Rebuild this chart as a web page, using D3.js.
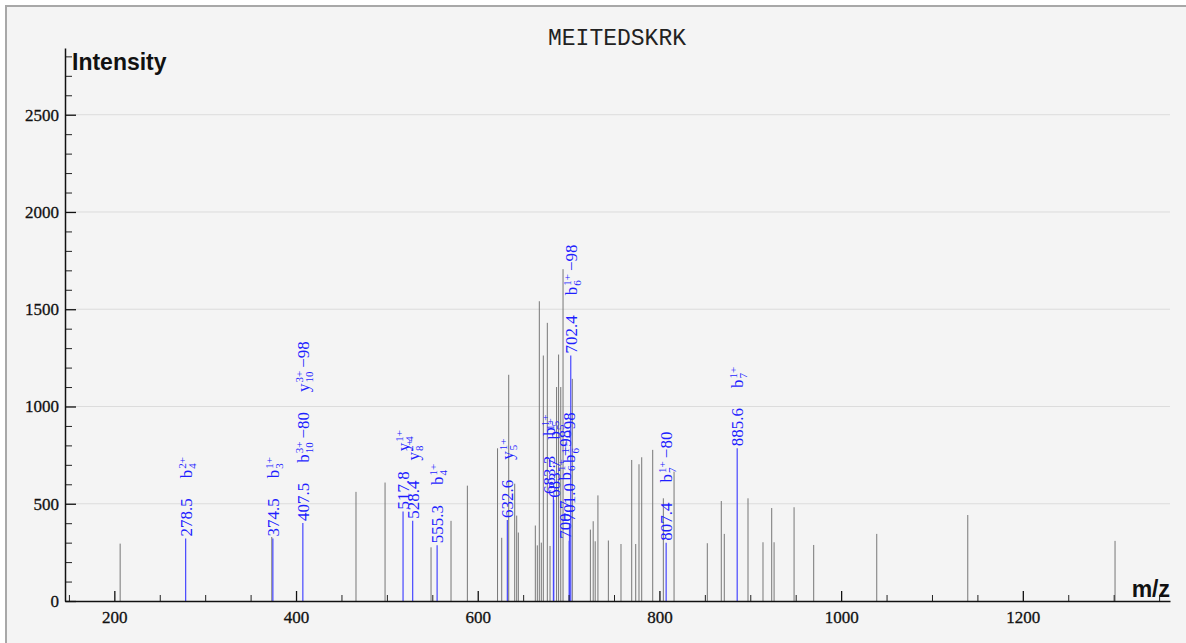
<!DOCTYPE html>
<html>
<head>
<meta charset="utf-8">
<script src="https://cdn.jsdelivr.net/npm/d3@7"></script>
<style>
  body { margin: 0; background: #fff; }
  .ann text { font-family: "Liberation Serif", serif; font-size: 17px; fill: #1f1fff; }
</style>
</head>
<body>
<div id="chart"></div>
<script>
// peptide / title
var peptide = "MEITEDSKRK";

// unannotated peaks (m/z, intensity)
var peakMz = [206.4, 373.3, 466.0, 498.0, 548.6, 570.6, 588.6, 621.8, 626.4, 634.1,
    640.7, 642.9, 644.7, 663.4, 665.6, 667.8, 670.0, 672.2, 676.6, 679.6,
    686.8, 689.0, 691.4, 693.9, 704.1, 724.0, 727.1, 729.3, 732.3, 743.8,
    757.7, 769.5, 773.9, 777.5, 780.5, 792.6, 804.3, 816.1, 852.7, 868.1,
    871.4, 897.5, 914.0, 923.6, 926.2, 948.2, 969.8, 1039.2, 1139.4, 1301.5];
var peakInt = [295, 329, 561, 609, 276, 412, 593, 785, 325, 1163,
    603, 439, 352, 388, 286, 1541, 300, 1262, 1430, 283,
    1100, 1267, 1100, 1706, 1142, 367, 410, 307, 543, 311,
    293, 725, 293, 703, 739, 777, 528, 665, 297, 514,
    345, 528, 302, 478, 302, 482, 288, 345, 442, 309];

// annotated peaks
var annMz = [278.5, 374.5, 407.5, 517.8, 528.4, 555.3, 632.6, 683.3, 683.7, 700.7, 701.0, 702.4, 807.4, 885.6];
var annInt = [321, 321, 401, 460, 412, 286, 417, 540, 520, 310, 400, 1262, 300, 785];
var annIons = [["b_4^2+"], ["b_3^1+"], ["b_10^3+\u221280", "y_10^3+\u221298"], ["y_4^1+"], ["y_8^2+"],
    ["b_4^1+"], ["y_5^1+"], ["b_5^1+"], ["b_5^1+"], ["b_6^1+\u221298"], ["b_6^1+\u221298"],
    ["b_6^1+\u221298"], ["b_7^1+\u221280"], ["b_7^1+"]];

// axis ticks
var xMajor = [200, 400, 600, 800, 1000, 1200];
var yMajor = [0, 500, 1000, 1500, 2000, 2500];

var width = 1186, height = 643;

var svg = d3.select("#chart").append("svg")
    .attr("width", width)
    .attr("height", height);

// frame
svg.append("rect")
    .attr("x", 6).attr("y", 6)
    .attr("width", 1200).attr("height", 660)
    .attr("fill", "#f4f4f4")
    .attr("stroke", "#a8a8a8")
    .attr("stroke-width", 2);

var x = d3.scaleLinear().domain([145.7, 1362]).range([65, 1170]);
var y = d3.scaleLinear().domain([0, 2843]).range([601, 48]);

// gridlines
svg.append("g").selectAll("line")
    .data(yMajor.slice(1))
    .enter().append("line")
    .attr("x1", 65).attr("x2", 1170)
    .attr("y1", function (d) { return y(d); })
    .attr("y2", function (d) { return y(d); })
    .attr("stroke", "#dcdcdc");

// peaks
svg.append("g").selectAll("line")
    .data(peakMz)
    .enter().append("line")
    .attr("x1", function (d) { return x(d); })
    .attr("x2", function (d) { return x(d); })
    .attr("y1", y(0))
    .attr("y2", function (d, i) { return y(peakInt[i]); })
    .attr("stroke", "#777")
    .attr("stroke-width", 1);

svg.append("g").selectAll("line")
    .data(annMz)
    .enter().append("line")
    .attr("x1", function (d) { return x(d); })
    .attr("x2", function (d) { return x(d); })
    .attr("y1", y(0))
    .attr("y2", function (d, i) { return y(annInt[i]); })
    .attr("stroke", "#4646ff")
    .attr("stroke-width", 1.2);

function styleAxis(g) {
    g.select(".domain").attr("stroke", "#111").attr("stroke-width", 1.5);
    g.selectAll(".tick line").attr("stroke", "#111").attr("stroke-width", 1.3);
    g.selectAll(".tick text")
        .attr("fill", "#111")
        .style("font-family", "'Liberation Serif', serif")
        .style("font-size", "17px")
        .style("stroke", "#111")
        .style("stroke-width", "0.3px");
}

// x axis: minor then major
var xMinor = d3.range(150, 1360, 50).filter(function (v) { return xMajor.indexOf(v) < 0; });
svg.append("g")
    .attr("transform", "translate(0," + y(0) + ")")
    .call(d3.axisBottom(x).tickValues(xMinor).tickSize(-6).tickSizeOuter(0).tickFormat(""))
    .call(function (g) { g.select(".domain").remove(); })
    .selectAll("line").attr("stroke", "#222");

svg.append("g")
    .attr("transform", "translate(0," + y(0) + ")")
    .call(d3.axisBottom(x).tickValues(xMajor).tickSize(-10).tickSizeOuter(0).tickPadding(10).tickFormat(d3.format("d")))
    .call(styleAxis);

// y axis: minor then major
var yMinor = d3.range(100, 2900, 100).filter(function (v) { return yMajor.indexOf(v) < 0; });
svg.append("g")
    .attr("transform", "translate(65,0)")
    .call(d3.axisLeft(y).tickValues(yMinor).tickSize(-7).tickSizeOuter(0).tickFormat(""))
    .call(function (g) { g.select(".domain").remove(); })
    .selectAll("line").attr("stroke", "#222");

svg.append("g")
    .attr("transform", "translate(65,0)")
    .call(d3.axisLeft(y).tickValues(yMajor).tickSize(-11).tickSizeOuter(0).tickPadding(6).tickFormat(d3.format("d")))
    .call(styleAxis);

// titles
svg.append("text")
    .attr("x", 617).attr("y", 45)
    .attr("text-anchor", "middle")
    .style("font-family", "'Liberation Mono', monospace")
    .style("font-size", "23px")
    .attr("fill", "#222")
    .text(peptide);

svg.append("text")
    .attr("x", 72).attr("y", 70)
    .style("font-family", "'Liberation Sans', Arial, sans-serif")
    .style("font-weight", "bold")
    .style("font-size", "23px")
    .attr("fill", "#111")
    .text("Intensity");

svg.append("text")
    .attr("x", 1170).attr("y", 597)
    .attr("text-anchor", "end")
    .style("font-family", "'Liberation Sans', Arial, sans-serif")
    .style("font-weight", "bold")
    .style("font-size", "23px")
    .attr("fill", "#111")
    .text("m/z");

// ion label like b_10^3+-80, drawn in rotated local coords, returns end position
function drawIon(g, s, pos) {
    var m = s.match(/^([a-z])_(\d+)\^(\d\+)(.*)$/);
    var a = g.append("text").attr("x", pos).attr("y", 6).text(m[1]);
    var w = a.node().getComputedTextLength();
    var sub = g.append("text").attr("x", pos + w + 1).attr("y", 10).style("font-size", "11px").text(m[2]);
    var sup = g.append("text").attr("x", pos + w + 1).attr("y", 0).style("font-size", "11px").text(m[3]);
    var end = pos + w + 1 + Math.max(sub.node().getComputedTextLength(), sup.node().getComputedTextLength());
    if (m[4]) {
        var suf = g.append("text").attr("x", end + 3).attr("y", 6).text(m[4]);
        end = end + 3 + suf.node().getComputedTextLength();
    }
    return end;
}

var labels = annMz.map(function (mz, i) {
    var g = svg.append("g").attr("class", "ann");
    var t = g.append("text").attr("x", 0).attr("y", 6).text(mz.toFixed(1));
    var pos = t.node().getComputedTextLength();
    annIons[i].forEach(function (s) {
        pos = drawIon(g, s, pos + 20);
    });
    var top = y(annInt[i]) - 2;
    return { g: g, x: x(mz), bottom: top, top: top - pos };
});

// nudge labels that sit on top of each other
for (var i = 1; i < labels.length; i++) {
    var p = labels[i - 1], c = labels[i];
    if (Math.abs(c.x - p.x) < 5 && c.top < p.bottom && p.top < c.bottom) {
        p.x -= 4;
    }
}
labels.forEach(function (l) {
    l.g.attr("transform", "translate(" + l.x + "," + l.bottom + ") rotate(-90)");
});
</script>
</body>
</html>
